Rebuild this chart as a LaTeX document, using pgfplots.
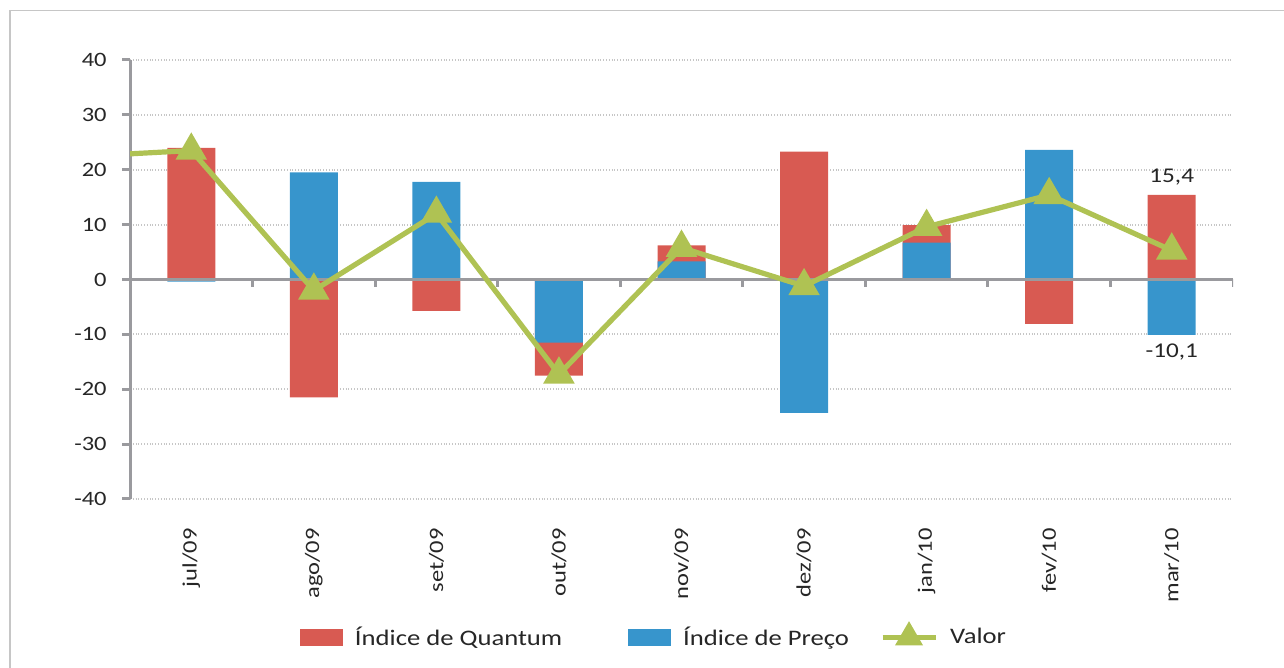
\documentclass[border=0pt]{standalone}
\usepackage{fontspec}
\setmainfont{Carlito}[FakeStretch=1.2]
\usepackage{pgfplots}
\pgfplotsset{compat=1.18}
\definecolor{qred}{HTML}{D85A52}
\definecolor{pblue}{HTML}{3795CC}
\definecolor{vgreen}{HTML}{AFC253}
\definecolor{axgray}{HTML}{9A9A9E}
\definecolor{txt}{HTML}{262626}
\begin{document}
\begin{tikzpicture}
\path[use as bounding box] (0,0) rectangle (642pt,334pt);
\draw[gray!45, line width=0.8pt] (5pt,0) -- (5pt,328.75pt) -- (642pt,328.75pt);
\begin{axis}[
  at={(65pt,84.5pt)}, anchor=south west, scale only axis,
  width=551.5pt, height=219.5pt,
  xmin=-0.5, xmax=8.5, ymin=-40, ymax=40,
  ytick={-40,-30,...,40},
  xtick={0,...,8},
  xticklabels={jul/09,ago/09,set/09,out/09,nov/09,dez/09,jan/10,fev/10,mar/10},
  axis x line=bottom, axis y line=left,
  axis line style={-, draw=axgray, line width=1.5pt},
  x axis line style={draw=none},
  xtick style={draw=none},
  ytick style={draw=axgray, line width=1.5pt},
  ytick align=outside, major tick length=4pt,
  ymajorgrids, grid style={densely dotted, gray!45, line width=1pt},
  /pgf/number format/assume math mode=true,
  tick label style={font=\fontsize{10.2}{12}\selectfont, text=txt},
  xticklabel style={rotate=90, anchor=east, inner sep=0pt, xshift=-12.5pt},
  yticklabel style={inner sep=0pt, xshift=-7.5pt},
  yticklabel={\pgfmathprintnumber[assume math mode=true]{\tick}},
  legend columns=3,
  legend style={at={(0.1541,-0.312)}, anchor=west, draw=none, fill=none,
    inner sep=0pt, outer sep=0pt, column sep=6pt,
    font=\fontsize{11.1}{12}\selectfont, text=txt,
    nodes={inner sep=0pt, anchor=west}},
]
\addplot[ybar, bar width=24pt, bar shift=0pt, fill=qred, draw=none,
  legend image code/.code={\fill[qred] (0pt,-4.25pt) rectangle (21.5pt,4.25pt);}]
  coordinates {(0,24.0) (1,-21.5) (2,-5.7) (3,-17.5) (4,6.2) (5,23.3) (6,9.9) (7,-8.1) (8,15.4)};
\addlegendentry{Índice de Quantum\rule{27pt}{0pt}}
\addplot[ybar, bar width=24pt, bar shift=0pt, fill=pblue, draw=none,
  legend image code/.code={\fill[pblue] (0pt,-4.25pt) rectangle (21.5pt,4.25pt);}]
  coordinates {(0,-0.4) (1,19.5) (2,17.8) (3,-11.5) (4,3.3) (5,-24.3) (6,6.7) (7,23.6) (8,-10.1)};
\addlegendentry{Índice de Preço\rule{9.5pt}{0pt}}
\draw[axgray, line width=1.5pt] (axis cs:-0.5,0) -- (axis cs:8.5,0);
\pgfplotsinvokeforeach{0.5,1.5,2.5,3.5,4.5,5.5,6.5,7.5,8.5}{
  \draw[axgray, line width=1.5pt] (axis cs:#1,0) -- ([yshift=-4pt]axis cs:#1,0);
}
\addplot[vgreen, line width=2.6pt, forget plot] coordinates {(-0.5,22.9) (0,23.5)};
\addplot[vgreen, line width=2.6pt, mark=triangle*, mark size=6.5pt,
  mark options={solid, draw=none, fill=vgreen},
  legend image code/.code={
    \draw[vgreen, line width=2.6pt] (0pt,0pt) -- (26.5pt,0pt);
    \fill[vgreen] (13.25pt,5.5pt) -- (18pt,-2.7pt) -- (8.5pt,-2.7pt) -- cycle;}]
  coordinates {(0,23.5) (1,-2.0) (2,12.0) (3,-17.3) (4,5.8) (5,-1.2) (6,9.6) (7,15.4) (8,5.3)};
\addlegendentry{Valor}
\node[font=\fontsize{10.5}{12}\selectfont, text=txt] at (axis cs:8,18.7) {15,4};
\node[font=\fontsize{10.5}{12}\selectfont, text=txt] at (axis cs:8,-13.2) {-10,1};
\end{axis}
\end{tikzpicture}
\end{document}
